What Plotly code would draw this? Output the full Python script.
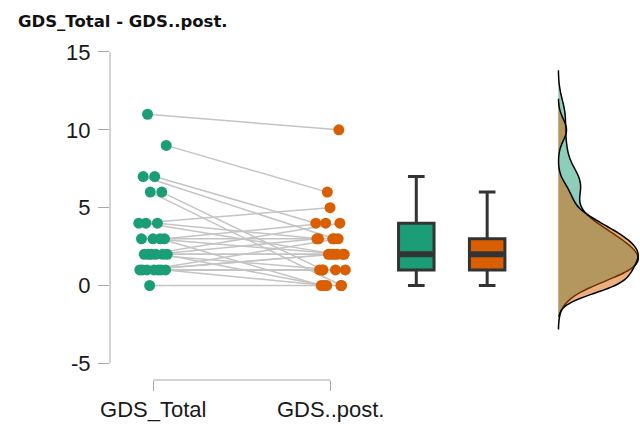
import numpy as np
import plotly.graph_objects as go

# Paired GDS scores (same subject at the same index)
conditions = ["GDS_Total", "GDS..post."]
gds_total = [11, 9, 7, 7, 6, 6, 4, 4, 4, 3, 3, 3, 3, 2, 2, 2, 2, 2, 2, 1, 1, 1, 1, 1, 1, 1, 0]
gds_post = [10, 6, 4, 3, 1, 0, 5, 3, 2, 4, 2, 3, 0, 4, 2, 3, 1, 0, 2, 2, 1, 3, 0, 1, 2, 1, 0]
y_ticks = [-5, 0, 5, 10, 15]
title_text = "GDS_Total - GDS..post."

GREEN = "#1b9e77"
ORANGE = "#d95f02"
AXIS_GREY = "#a8a8a8"
FONT = "Liberation Sans, Arial, sans-serif"

# layout positions on the numeric x axis
pos_pre, pos_post = 1.0, 2.0
box_pre, box_post = 2.4825, 2.882
box_w = 0.2
dens_base = 3.283


def jitter(n, phase, spread=0.085):
    # deterministic, evenly scattered horizontal offsets
    k = np.arange(n)
    return spread * (2 * ((k * 0.618034 + phase) % 1.0) - 1)


pre = np.array(gds_total, dtype=float)
post = np.array(gds_post, dtype=float)
x_pre = pos_pre + jitter(len(pre), 0.31)
x_post = pos_post + jitter(len(post), 0.77)

fig = go.Figure()

# connecting lines between paired observations
lx, ly = [], []
for a, b, ya, yb in zip(x_pre, x_post, pre, post):
    lx += [a, b, None]
    ly += [ya, yb, None]
fig.add_trace(go.Scatter(x=lx, y=ly, mode="lines",
                         line=dict(color="#c4c4c4", width=1.5),
                         hoverinfo="skip", showlegend=False))

# individual points
fig.add_trace(go.Scatter(x=x_pre, y=pre, mode="markers",
                         marker=dict(color=GREEN, size=11), showlegend=False))
fig.add_trace(go.Scatter(x=x_post, y=post, mode="markers",
                         marker=dict(color=ORANGE, size=11), showlegend=False))

# box plots (Tukey whiskers; outliers are not drawn)
for vals, xpos, col in [(pre, box_pre, GREEN), (post, box_post, ORANGE)]:
    fig.add_trace(go.Box(y=vals, x0=xpos, width=box_w, fillcolor=col,
                         line=dict(color="#333333", width=3),
                         boxpoints="outliers", marker=dict(opacity=0, size=1),
                         whiskerwidth=0.47, showlegend=False,
                         hoverinfo="skip"))
    # thicker median bar
    med = float(np.median(vals))
    fig.add_trace(go.Scatter(x=[xpos - box_w / 2 + 0.008, xpos + box_w / 2 - 0.008],
                             y=[med, med], mode="lines",
                             line=dict(color="#333333", width=6),
                             hoverinfo="skip", showlegend=False))

# half densities, sharing one baseline
for vals, col, bw in [(pre, "rgba(27,158,119,0.5)", 1.0),
                      (post, "rgba(217,95,2,0.5)", 0.7)]:
    fig.add_trace(go.Violin(y=vals, x0=dens_base, side="positive", width=0.9,
                            scalemode="width", bandwidth=bw,
                            spanmode="manual",
                            span=[vals.min() - 2.8 * bw, vals.max() + 2.8 * bw],
                            fillcolor=col, line=dict(color="black", width=1.5),
                            points=False, box_visible=False,
                            meanline_visible=False, showlegend=False,
                            hoverinfo="skip"))

fig.update_layout(
    width=640, height=424,
    margin=dict(l=110, r=0, t=40, b=44),
    paper_bgcolor="white", plot_bgcolor="white",
    boxmode="overlay", violinmode="overlay",
    font=dict(family=FONT, color="#1a1a1a"),
    title=dict(text="<b>" + title_text + "</b>", x=18 / 640, xref="container",
               xanchor="left", y=1 - 21 / 424, yref="container",
               yanchor="middle",
               font=dict(family="DejaVu Sans, sans-serif", size=16.5,
                         color="#111111")),
    xaxis=dict(range=[0.756, 3.7435], tickvals=[pos_pre, pos_post],
               ticktext=conditions, ticks="outside", ticklen=10,
               tickcolor=AXIS_GREY, showgrid=False, zeroline=False,
               showline=False, tickfont=dict(size=22), automargin=False,
               ticklabelstandoff=0),
    yaxis=dict(range=[-6.07, 15.77], tickvals=y_ticks,
               ticktext=[str(v) for v in y_ticks], ticks="outside",
               ticklen=11, tickcolor=AXIS_GREY, showgrid=False,
               zeroline=False, showline=False, tickfont=dict(size=22),
               automargin=False, ticklabelstandoff=3),
    shapes=[
        dict(type="line", xref="x", yref="paper", x0=pos_pre, x1=pos_post,
             y0=0, y1=0, line=dict(color=AXIS_GREY, width=1)),
        dict(type="line", xref="paper", yref="y", x0=0, x1=0,
             y0=min(y_ticks), y1=max(y_ticks),
             line=dict(color=AXIS_GREY, width=1)),
    ],
)

fig.write_html("out.html")
